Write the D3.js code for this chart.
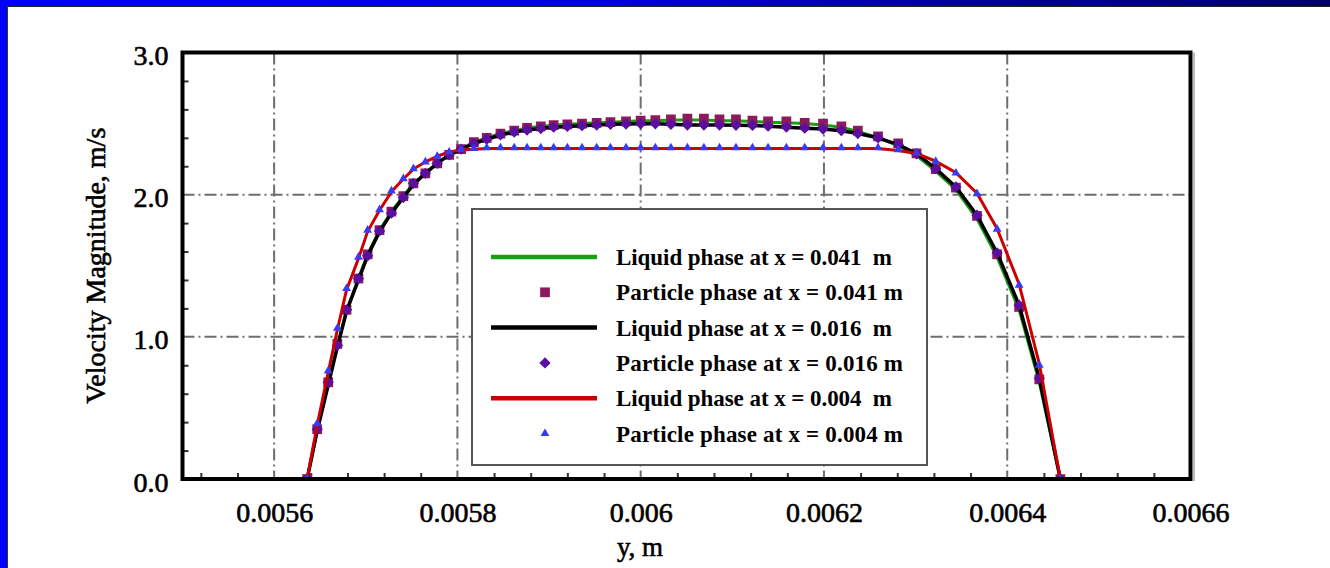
<!DOCTYPE html>
<html>
<head>
<meta charset="utf-8">
<script src="https://cdn.jsdelivr.net/npm/d3@7"></script>
<style>
  body { margin: 0; background: #fff; }
  svg { display: block; font-family: "Liberation Serif", "Times New Roman", serif; }
</style>
</head>
<body>
<div id="container"></div>
<script>
// y position across the channel (m), shared by all series
var yPos = [0.005636, 0.005647, 0.005659, 0.005669, 0.005679, 0.005692, 0.005702, 0.005715, 0.005728, 0.005741,
  0.005752, 0.005765, 0.005778, 0.005791, 0.005804, 0.005818, 0.005832, 0.005847, 0.005862, 0.005876,
  0.005891, 0.005905, 0.005920, 0.005936, 0.005952, 0.005967, 0.005984, 0.006000, 0.006016, 0.006033,
  0.006051, 0.006069, 0.006086, 0.006104, 0.006122, 0.006139, 0.006159, 0.006179, 0.006199, 0.006219,
  0.006237, 0.006259, 0.006281, 0.006301, 0.006322, 0.006344, 0.006367, 0.006389, 0.006413, 0.006435,
  0.006458];

// velocity magnitude (m/s)
var liquid041 = [0, 0.34, 0.67, 0.94, 1.18, 1.41, 1.58, 1.75, 1.88, 1.99,
  2.08, 2.15, 2.22, 2.28, 2.32, 2.37, 2.40, 2.43, 2.45, 2.47,
  2.48, 2.49, 2.495, 2.50, 2.505, 2.51, 2.515, 2.52, 2.52, 2.525,
  2.525, 2.525, 2.52, 2.52, 2.515, 2.51, 2.505, 2.50, 2.49, 2.475,
  2.445, 2.40, 2.345, 2.275, 2.165, 2.035, 1.83, 1.56, 1.19, 0.68,
  0];
var particle041 = [0, 0.35, 0.68, 0.95, 1.19, 1.41, 1.58, 1.75, 1.88, 1.99,
  2.08, 2.15, 2.22, 2.28, 2.32, 2.37, 2.40, 2.43, 2.45, 2.47,
  2.48, 2.49, 2.495, 2.50, 2.505, 2.51, 2.515, 2.52, 2.525, 2.53,
  2.535, 2.535, 2.53, 2.53, 2.52, 2.515, 2.515, 2.505, 2.50, 2.48,
  2.45, 2.41, 2.36, 2.29, 2.18, 2.05, 1.85, 1.58, 1.21, 0.70,
  0];
var liquid016 = [0, 0.34, 0.66, 0.93, 1.18, 1.40, 1.57, 1.74, 1.87, 1.98,
  2.07, 2.15, 2.22, 2.28, 2.32, 2.36, 2.39, 2.42, 2.44, 2.455,
  2.465, 2.475, 2.48, 2.485, 2.49, 2.495, 2.497, 2.498, 2.498, 2.495,
  2.49, 2.49, 2.49, 2.488, 2.487, 2.482, 2.475, 2.468, 2.462, 2.45,
  2.43, 2.40, 2.352, 2.288, 2.183, 2.054, 1.855, 1.59, 1.222, 0.708,
  0];
var particle016 = [0, 0.35, 0.68, 0.94, 1.19, 1.41, 1.57, 1.745, 1.87, 1.98,
  2.08, 2.15, 2.22, 2.28, 2.32, 2.36, 2.39, 2.42, 2.44, 2.455,
  2.465, 2.475, 2.48, 2.485, 2.49, 2.495, 2.497, 2.498, 2.498, 2.495,
  2.49, 2.49, 2.49, 2.488, 2.487, 2.482, 2.475, 2.468, 2.462, 2.45,
  2.43, 2.40, 2.352, 2.288, 2.183, 2.054, 1.855, 1.59, 1.222, 0.708,
  0];
var liquid004 = [0, 0.38, 0.75, 1.05, 1.33, 1.55, 1.74, 1.89, 2.02, 2.11,
  2.18, 2.23, 2.27, 2.30, 2.315, 2.32, 2.325, 2.325, 2.325, 2.325,
  2.325, 2.325, 2.325, 2.325, 2.325, 2.325, 2.325, 2.325, 2.325, 2.325,
  2.325, 2.325, 2.325, 2.325, 2.325, 2.325, 2.325, 2.325, 2.325, 2.325,
  2.325, 2.325, 2.31, 2.29, 2.235, 2.155, 2.01, 1.76, 1.37, 0.81,
  0];
var particle004 = [0, 0.39, 0.76, 1.06, 1.34, 1.56, 1.75, 1.895, 2.026, 2.113,
  2.183, 2.23, 2.27, 2.30, 2.318, 2.325, 2.33, 2.33, 2.33, 2.33,
  2.33, 2.33, 2.33, 2.33, 2.33, 2.33, 2.33, 2.33, 2.33, 2.33,
  2.33, 2.33, 2.33, 2.33, 2.33, 2.33, 2.33, 2.33, 2.33, 2.33,
  2.33, 2.33, 2.316, 2.293, 2.234, 2.152, 2.007, 1.757, 1.363, 0.801,
  0];

var xTickValues = [0.0056, 0.0058, 0.006, 0.0062, 0.0064, 0.0066];
var xTickLabels = ["0.0056", "0.0058", "0.006", "0.0062", "0.0064", "0.0066"];
var yTickValues = [0, 1, 2, 3];
var yTickLabels = ["0.0", "1.0", "2.0", "3.0"];
var xGridValues = [0.0056, 0.0058, 0.006, 0.0062, 0.0064];
var yGridValues = [1, 2];

var legendLabels = ["Liquid phase at x = 0.041  m", "Particle phase at x = 0.041 m",
  "Liquid phase at x = 0.016  m", "Particle phase at x = 0.016 m",
  "Liquid phase at x = 0.004  m", "Particle phase at x = 0.004 m"];

var svg_width = 1330, svg_height = 568;
var pLeft = 182.5, pRight = 1190.5, pTop = 52.5, pBottom = 479;

var svg = d3.select("#container")
  .append("svg")
  .attr("width", svg_width)
  .attr("height", svg_height);

// slide frame
var defs = svg.append("defs");
var grad = defs.append("linearGradient").attr("id", "topbar");
grad.append("stop").attr("offset", "0%").attr("stop-color", "#0000ff");
grad.append("stop").attr("offset", "45%").attr("stop-color", "#0000e6");
grad.append("stop").attr("offset", "70%").attr("stop-color", "#0000a8");
grad.append("stop").attr("offset", "100%").attr("stop-color", "#000060");

svg.append("rect").attr("x", 0).attr("y", 0).attr("width", svg_width).attr("height", svg_height).style("fill", "#fff");
svg.append("rect").attr("x", 0).attr("y", 0).attr("width", svg_width).attr("height", 6).style("fill", "url(#topbar)");
svg.append("rect").attr("x", 0).attr("y", 0).attr("width", 7).attr("height", svg_height).style("fill", "#0000ff");
svg.append("line").attr("x1", 7).attr("x2", svg_width).attr("y1", 6.5).attr("y2", 6.5).style("stroke", "#222").style("stroke-width", 1);
svg.append("line").attr("x1", 7.5).attr("x2", 7.5).attr("y1", 6).attr("y2", svg_height).style("stroke", "#333").style("stroke-width", 1);

var x = d3.scaleLinear().domain([0.0055, 0.0066]).range([pLeft, pRight]);
var y = d3.scaleLinear().domain([0, 3]).range([pBottom, pTop]);

// grid lines (dash-dot)
svg.append("g").selectAll("line")
  .data(xGridValues)
  .enter().append("line")
  .attr("x1", function(d) { return x(d); })
  .attr("x2", function(d) { return x(d); })
  .attr("y1", pTop)
  .attr("y2", pBottom)
  .style("stroke", "#6e6e6e")
  .style("stroke-width", 2)
  .style("stroke-dasharray", "12,4,2,4");

svg.append("g").selectAll("line")
  .data(yGridValues)
  .enter().append("line")
  .attr("x1", pLeft)
  .attr("x2", pRight)
  .attr("y1", function(d) { return y(d); })
  .attr("y2", function(d) { return y(d); })
  .style("stroke", "#6e6e6e")
  .style("stroke-width", 2)
  .style("stroke-dasharray", "12,4,2,4");

// minor ticks
var xMinor = d3.range(-2, 26).filter(function(k) { return k % 5 != 0; })
  .map(function(k) { return 0.0056 + k * 0.00004; });
var yMinor = d3.range(1, 15).filter(function(k) { return k % 5 != 0; })
  .map(function(k) { return k * 0.2; });

svg.append("g")
  .attr("transform", "translate(0," + pBottom + ")")
  .call(d3.axisBottom(x).tickValues(xMinor).tickFormat("").tickSizeInner(-6).tickSizeOuter(0));
svg.append("g")
  .attr("transform", "translate(" + pLeft + ",0)")
  .call(d3.axisLeft(y).tickValues(yMinor).tickFormat("").tickSizeInner(-6).tickSizeOuter(0));

// labelled axes
var xAxis = svg.append("g")
  .attr("transform", "translate(0," + pBottom + ")")
  .call(d3.axisBottom(x).tickValues(xTickValues)
    .tickFormat(function(d, i) { return xTickLabels[i]; })
    .tickSizeInner(0).tickSizeOuter(0).tickPadding(23));
var yAxis = svg.append("g")
  .attr("transform", "translate(" + pLeft + ",0)")
  .call(d3.axisLeft(y).tickValues(yTickValues)
    .tickFormat(function(d, i) { return yTickLabels[i]; })
    .tickSizeInner(0).tickSizeOuter(0).tickPadding(14));

svg.selectAll(".domain").remove();
svg.selectAll(".tick line").style("stroke", "#333").style("stroke-width", 2);
xAxis.attr("font-family", null).attr("font-size", null);
yAxis.attr("font-family", null).attr("font-size", null);
svg.selectAll(".tick text")
  .style("font-size", "28px")
  .style("fill", "#000")
  .style("stroke", "#000")
  .style("stroke-width", 0.6);
xAxis.selectAll("text").attr("dy", "0.71em");
yAxis.selectAll("text").attr("dy", "0.43em");

// axis titles
svg.append("text")
  .text("y, m")
  .attr("x", 640)
  .attr("y", 556)
  .attr("text-anchor", "middle")
  .style("font-size", "27px")
  .style("stroke", "#000")
  .style("stroke-width", 0.6);

svg.append("text")
  .text("Velocity Magnitude, m/s")
  .attr("transform", "translate(105," + ((pTop + pBottom) / 2) + ") rotate(-90)")
  .attr("text-anchor", "middle")
  .style("font-size", "28px")
  .style("stroke", "#000")
  .style("stroke-width", 0.6);

// curves
var clip = defs.append("clipPath").attr("id", "plotclip");
clip.append("rect").attr("x", pLeft).attr("y", pTop).attr("width", pRight - pLeft).attr("height", pBottom - pTop);

var plot = svg.append("g").attr("clip-path", "url(#plotclip)");

function drawLine(values, color, width) {
  var line = d3.line()
    .x(function(d, i) { return x(yPos[i]); })
    .y(function(d) { return y(d); });
  plot.append("path")
    .datum(values)
    .attr("d", line)
    .style("fill", "none")
    .style("stroke", color)
    .style("stroke-width", width)
    .style("stroke-linejoin", "round");
}

// rot = 45 turns the square into the wide diamond used in the plot
function drawMarkers(values, type, size, color, rot) {
  plot.append("g").selectAll("path")
    .data(values)
    .enter().append("path")
    .attr("d", d3.symbol().type(type).size(size))
    .attr("transform", function(d, i) {
      return "translate(" + x(yPos[i]) + "," + y(d) + ") rotate(" + (rot || 0) + ")";
    })
    .style("fill", color);
}

drawLine(liquid041, "#16a016", 3);
drawMarkers(particle041, d3.symbolSquare, 95, "#8c1a5c");
drawLine(liquid016, "#000", 3.5);
drawMarkers(particle016, d3.symbolSquare, 64, "#5a0fa0", 45);
drawLine(liquid004, "#cc0000", 3);
drawMarkers(particle004, d3.symbolTriangle, 34, "#3a3af5");

// frame
svg.append("rect")
  .attr("x", pRight + 2.5)
  .attr("y", pTop)
  .attr("width", 2)
  .attr("height", pBottom - pTop + 2)
  .style("fill", "#bbb");
svg.append("rect")
  .attr("x", pLeft)
  .attr("y", pTop)
  .attr("width", pRight - pLeft)
  .attr("height", pBottom - pTop)
  .style("fill", "none")
  .style("stroke", "#000")
  .style("stroke-width", 4);

// legend
var lgX = 472, lgY = 209, lgW = 455, lgH = 256;
var legend = svg.append("g");
legend.append("rect")
  .attr("x", lgX)
  .attr("y", lgY)
  .attr("width", lgW)
  .attr("height", lgH)
  .style("fill", "#fff")
  .style("stroke", "#555")
  .style("stroke-width", 2);

var legendStyle = [
  { kind: "line", color: "#16a016" },
  { kind: "mark", type: d3.symbolSquare, size: 95, color: "#8c1a5c", rot: 0 },
  { kind: "line", color: "#000" },
  { kind: "mark", type: d3.symbolSquare, size: 64, color: "#5a0fa0", rot: 45 },
  { kind: "line", color: "#cc0000" },
  { kind: "mark", type: d3.symbolTriangle, size: 34, color: "#3a3af5", rot: 0 }
];
var textWidths = [276, 287, 276, 287, 276, 287];

var row = legend.selectAll(".row")
  .data(legendLabels)
  .enter().append("g")
  .attr("class", "row")
  .attr("transform", function(d, i) { return "translate(0," + (257 + i * 35.3) + ")"; });

row.each(function(d, i) {
  var g = d3.select(this);
  var s = legendStyle[i];
  if (s.kind == "line") {
    g.append("line").attr("x1", 491).attr("x2", 597).attr("y1", 0).attr("y2", 0)
      .style("stroke", s.color).style("stroke-width", 4.5);
  } else {
    g.append("path").attr("d", d3.symbol().type(s.type).size(s.size))
      .attr("transform", "translate(545,0) rotate(" + s.rot + ")")
      .style("fill", s.color);
  }
  g.append("text")
    .text(d)
    .attr("x", 616)
    .attr("y", 8)
    .attr("textLength", textWidths[i])
    .attr("lengthAdjust", "spacing")
    .style("font-size", "23px")
    .style("font-weight", "bold")
    .style("white-space", "pre");
});
</script>
</body>
</html>
